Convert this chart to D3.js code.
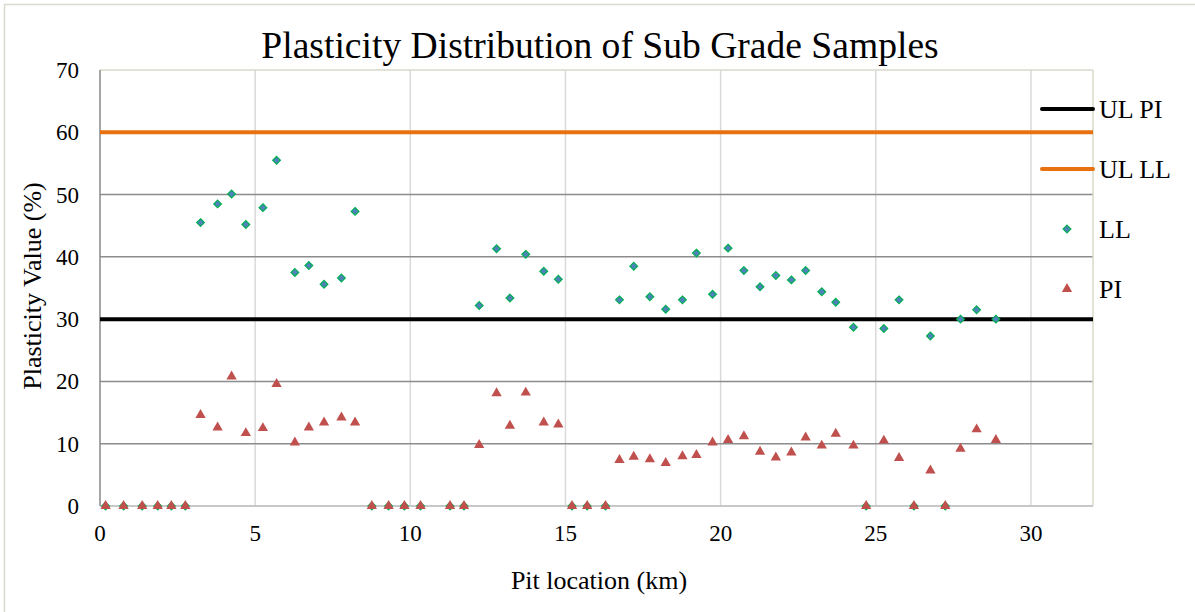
<!DOCTYPE html>
<html>
<head>
<meta charset="utf-8">
<script src="https://cdn.jsdelivr.net/npm/d3@7"></script>
<style>
  body { margin: 0; background: #fff; }
  svg text { font-family: "Liberation Serif", "Times New Roman", Times, serif; fill: #000; }
</style>
</head>
<body>
<div class="canvas"></div>
<script>
var width = 1195,
	height = 612;

// pit locations (km)
var pit_km = [0.18, 0.76, 1.36, 1.86, 2.30, 2.75,
	3.24, 3.79, 4.24, 4.70, 5.25, 5.69, 6.28, 6.73, 7.22, 7.78, 8.22,
	8.76, 9.30, 9.81, 10.33, 11.28, 11.73,
	12.22, 12.78, 13.21, 13.72, 14.30, 14.77,
	15.21, 15.70, 16.29,
	16.74, 17.20, 17.72, 18.23, 18.77, 19.22, 19.74, 20.24, 20.75, 21.27, 21.78, 22.28, 22.74, 23.26, 23.71, 24.28,
	24.69, 25.26, 25.75, 26.23, 26.76, 27.24, 27.73, 28.25, 28.87];

// liquid limit (%)
var ll_values = [0, 0, 0, 0, 0, 0,
	45.5, 48.5, 50.1, 45.2, 47.9, 55.5, 37.5, 38.6, 35.6, 36.6, 47.3,
	0, 0, 0, 0, 0, 0,
	32.2, 41.3, 33.4, 40.4, 37.7, 36.4,
	0, 0, 0,
	33.1, 38.5, 33.6, 31.6, 33.1, 40.6, 34.0, 41.4, 37.8, 35.2, 37.0, 36.3, 37.8, 34.4, 32.7, 28.7,
	0, 28.5, 33.1, 0, 27.3, 0, 30.0, 31.5, 30.0];

// plasticity index (%)
var pi_values = [0, 0, 0, 0, 0, 0,
	14.6, 12.6, 20.8, 11.7, 12.5, 19.6, 10.2, 12.6, 13.4, 14.2, 13.4,
	0, 0, 0, 0, 0, 0,
	9.8, 18.1, 12.9, 18.2, 13.4, 13.1,
	0, 0, 0,
	7.4, 7.9, 7.5, 6.9, 8.0, 8.2, 10.2, 10.6, 11.2, 8.7, 7.8, 8.6, 11.0, 9.7, 11.6, 9.7,
	0, 10.5, 7.7, 0, 5.7, 0, 9.2, 12.3, 10.6];

// upper limits
var ul_pi = 30,
	ul_ll = 60;

var x_ticks = [0, 5, 10, 15, 20, 25, 30];
var y_ticks = [0, 10, 20, 30, 40, 50, 60, 70];
var legend_names = ["UL PI", "UL LL", "LL", "PI"];

var serif = "'Liberation Serif', 'Times New Roman', Times, serif";

var canvas = d3.select(".canvas")
	.append("svg")
	.attr('width', width)
	.attr('height', height)
	.attr('font-family', serif);

// chart area border
canvas.append("rect")
	.attr("x", 4.5)
	.attr("y", 4.5)
	.attr("width", 1200)
	.attr("height", 620)
	.attr("fill", "none")
	.attr("stroke", "#d9d9cc")
	.attr("stroke-width", 1.5);

var plot_l = 100, plot_r = 1093, plot_t = 70, plot_b = 506;

var scale_x = d3.scaleLinear()
	.domain([0, 32])
	.range([plot_l, plot_r]);

var scale_y = d3.scaleLinear()
	.domain([0, 70])
	.range([plot_b, plot_t]);

/* ---------- grid ---------- */
canvas.append("g").selectAll("line")
	.data(x_ticks.slice(1))
	.join("line")
	.attr("x1", d => scale_x(d))
	.attr("x2", d => scale_x(d))
	.attr("y1", plot_t)
	.attr("y2", plot_b)
	.attr("stroke", "#d9d9d9")
	.attr("stroke-width", 1.5);

canvas.append("g").selectAll("line")
	.data(y_ticks.slice(1, -1))
	.join("line")
	.attr("x1", plot_l)
	.attr("x2", plot_r)
	.attr("y1", d => scale_y(d))
	.attr("y2", d => scale_y(d))
	.attr("stroke", "#8c8c8c")
	.attr("stroke-width", 1.5);

// plot area frame
canvas.append("line")
	.attr("x1", plot_l).attr("x2", plot_r)
	.attr("y1", plot_t).attr("y2", plot_t)
	.attr("stroke", "#d9d9c8").attr("stroke-width", 1.5);
canvas.append("line")
	.attr("x1", plot_r).attr("x2", plot_r)
	.attr("y1", plot_t).attr("y2", plot_b)
	.attr("stroke", "#d9d9c8").attr("stroke-width", 1.5);
canvas.append("line")
	.attr("x1", plot_l).attr("x2", plot_r)
	.attr("y1", plot_b).attr("y2", plot_b)
	.attr("stroke", "#c8c8c8").attr("stroke-width", 2);
canvas.append("line")
	.attr("x1", plot_l).attr("x2", plot_l)
	.attr("y1", plot_t).attr("y2", plot_b)
	.attr("stroke", "#888").attr("stroke-width", 1.5);

/* ---------- axis labels ---------- */
canvas.append("g").selectAll("text")
	.data(y_ticks)
	.join("text")
	.attr("x", 79)
	.attr("y", d => scale_y(d) + 8)
	.attr("text-anchor", "end")
	.attr("font-family", serif)
	.attr("font-size", 23)
	.text(d => d);

canvas.append("g").selectAll("text")
	.data(x_ticks)
	.join("text")
	.attr("x", d => scale_x(d))
	.attr("y", 541)
	.attr("text-anchor", "middle")
	.attr("font-family", serif)
	.attr("font-size", 23)
	.text(d => d);

canvas.append("text")
	.attr("x", 600)
	.attr("y", 58)
	.attr("text-anchor", "middle")
	.attr("font-family", serif)
	.attr("font-size", 37.6)
	.text("Plasticity Distribution of Sub Grade Samples");

canvas.append("text")
	.attr("x", 599)
	.attr("y", 589)
	.attr("text-anchor", "middle")
	.attr("font-family", serif)
	.attr("font-size", 26)
	.text("Pit location (km)");

canvas.append("text")
	.attr("transform", "translate(41, 286) rotate(-90)")
	.attr("text-anchor", "middle")
	.attr("font-family", serif)
	.attr("font-size", 26)
	.text("Plasticity Value (%)");

/* ---------- limit lines ---------- */
canvas.append("line")
	.attr("x1", scale_x(0)).attr("x2", scale_x(32))
	.attr("y1", scale_y(ul_ll)).attr("y2", scale_y(ul_ll))
	.attr("stroke", "#e8700f").attr("stroke-width", 4);

canvas.append("line")
	.attr("x1", scale_x(0)).attr("x2", scale_x(32))
	.attr("y1", scale_y(ul_pi)).attr("y2", scale_y(ul_pi))
	.attr("stroke", "#000").attr("stroke-width", 4);

/* ---------- points ---------- */
var diamond = d3.symbol().type(d3.symbolDiamond2).size(38);
var triangle = d3.symbol().type(d3.symbolTriangle).size(46);

canvas.append("g").selectAll("path")
	.data(pit_km)
	.join("path")
	.attr("d", diamond)
	.attr("transform", (d, i) => "translate(" + scale_x(d) + "," + scale_y(ll_values[i]) + ")")
	.attr("fill", "#4f81bd")
	.attr("stroke", "#00b050")
	.attr("stroke-width", 1.2);

canvas.append("g").selectAll("path")
	.data(pit_km)
	.join("path")
	.attr("d", triangle)
	.attr("transform", (d, i) => "translate(" + scale_x(d) + "," + scale_y(pi_values[i]) + ")")
	.attr("fill", "#c0504d");

/* ---------- legend ---------- */
var legend = canvas.append("g");
var legend_y = [109, 169, 229, 289];

legend.append("line")
	.attr("x1", 1042).attr("x2", 1093)
	.attr("y1", legend_y[0]).attr("y2", legend_y[0])
	.attr("stroke", "#000").attr("stroke-width", 4).attr("stroke-linecap", "round");
legend.append("line")
	.attr("x1", 1042).attr("x2", 1093)
	.attr("y1", legend_y[1]).attr("y2", legend_y[1])
	.attr("stroke", "#e8700f").attr("stroke-width", 4).attr("stroke-linecap", "round");
legend.append("path")
	.attr("d", diamond)
	.attr("transform", "translate(1067," + legend_y[2] + ")")
	.attr("fill", "#4f81bd").attr("stroke", "#00b050").attr("stroke-width", 1.2);
legend.append("path")
	.attr("d", triangle)
	.attr("transform", "translate(1067," + legend_y[3] + ")")
	.attr("fill", "#c0504d");

legend.selectAll("text")
	.data(legend_names)
	.join("text")
	.attr("x", 1099)
	.attr("y", (d, i) => legend_y[i] + 9)
	.attr("font-family", serif)
	.attr("font-size", 26)
	.text(d => d);
</script>
</body>
</html>
